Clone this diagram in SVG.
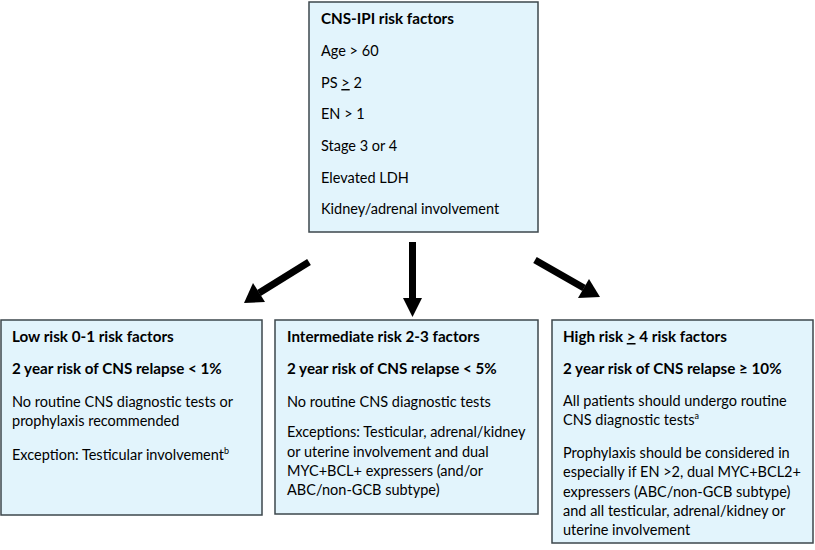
<svg xmlns="http://www.w3.org/2000/svg" width="815" height="550" viewBox="0 0 815 550">
<style>
.box{fill:#e2f4fc;stroke:#3d474c;stroke-width:1.5}
text{font-family:Lato,"Liberation Sans",sans-serif;font-size:14.5px;fill:#000}
.b{font-weight:bold;font-size:15.2px}
.u{text-decoration:underline}
.arr{stroke:#000;stroke-width:7;fill:none}
.head{fill:#000}
</style>
<rect width="815" height="550" fill="#fff"/>
<g id="top">
<rect class="box" x="309" y="2" width="229" height="230"/>
<text class="b" x="321" y="24">CNS-IPI risk factors</text>
<text x="321" y="56">Age &gt; 60</text>
<text x="321" y="88">PS <tspan class="u">&gt;</tspan> 2</text>
<text x="321" y="119">EN &gt; 1</text>
<text x="321" y="151">Stage 3 or 4</text>
<text x="321" y="183">Elevated LDH</text>
<text x="321" y="214">Kidney/adrenal involvement</text>
</g>
<g id="low">
<rect class="box" x="1" y="320" width="261" height="195"/>
<text class="b" x="12" y="342">Low risk 0-1 risk factors</text>
<text class="b" x="12" y="374">2 year risk of CNS relapse &lt; 1%</text>
<text x="12" y="407">No routine CNS diagnostic tests or</text>
<text x="12" y="426">prophylaxis recommended</text>
<text x="12" y="460">Exception: Testicular involvement<tspan dy="-6" font-size="9">b</tspan></text>
</g>
<g id="intermediate">
<rect class="box" x="275" y="320" width="263" height="194"/>
<text class="b" x="287" y="342">Intermediate risk 2-3 factors</text>
<text class="b" x="287" y="374">2 year risk of CNS relapse &lt; 5%</text>
<text x="287" y="407">No routine CNS diagnostic tests</text>
<text x="287" y="437">Exceptions: Testicular, adrenal/kidney</text>
<text x="287" y="457">or uterine involvement and dual</text>
<text x="287" y="476">MYC+BCL+ expressers (and/or</text>
<text x="287" y="495">ABC/non-GCB subtype)</text>
</g>
<g id="high">
<rect class="box" x="552" y="320" width="261" height="223"/>
<text class="b" x="563" y="342">High risk <tspan class="u">&gt;</tspan> 4 risk factors</text>
<text class="b" x="563" y="374">2 year risk of CNS relapse ≥ 10%</text>
<text x="563" y="406">All patients should undergo routine</text>
<text x="563" y="425">CNS diagnostic tests<tspan dy="-6" font-size="9">a</tspan></text>
<text x="563" y="458">Prophylaxis should be considered in</text>
<text x="563" y="477">especially if EN &gt;2, dual MYC+BCL2+</text>
<text x="563" y="497">expressers (ABC/non-GCB subtype)</text>
<text x="563" y="516">and all testicular, adrenal/kidney or</text>
<text x="563" y="535">uterine involvement</text>
</g>
<g id="connectors">
<line class="arr" x1="309" y1="262" x2="259" y2="293"/>
<polygon class="head" points="244,303 253,283 265,302"/>
<line class="arr" x1="412.5" y1="242" x2="412.5" y2="300"/>
<polygon class="head" points="403,298 422,298 412.5,317"/>
<line class="arr" x1="535" y1="260" x2="584" y2="288"/>
<polygon class="head" points="600,297 578,298 589,279"/>
</g>
</svg>
